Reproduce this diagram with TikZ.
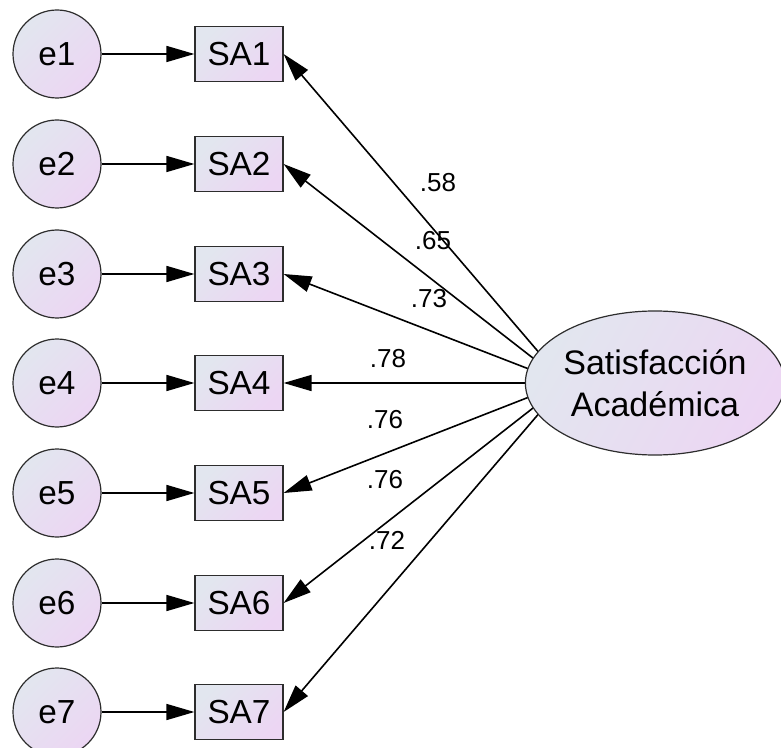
\documentclass[tikz,border=0pt]{standalone}
\usepackage{fontspec}
\setmainfont{Liberation Sans}
\usetikzlibrary{arrows.meta,shapes.geometric}

\definecolor{shadeblue}{RGB}{226,230,239}
\definecolor{shadepink}{RGB}{236,214,243}
\definecolor{rimgray}{RGB}{45,45,45}

\tikzset{
  errcirc/.style={circle, draw=rimgray, line width=0.9pt, minimum size=66pt, inner sep=0pt,
    shading=axis, top color=shadeblue, bottom color=shadepink, shading angle=45,
    font=\fontsize{25}{30}\selectfont},
  itembox/.style={rectangle, draw=rimgray, line width=0.9pt, minimum width=66pt, minimum height=41pt, inner sep=0pt,
    shading=axis, top color=shadeblue, bottom color=shadepink, shading angle=45,
    font=\fontsize{25}{30}\selectfont},
  latent/.style={ellipse, draw=rimgray, line width=0.9pt, minimum width=187pt, minimum height=108pt, inner sep=0pt,
    shading=axis, top color=shadeblue, bottom color=shadepink, shading angle=60,
    align=center, font=\fontsize{25.5}{32}\selectfont},
  path/.style={line width=1.2pt, -{Triangle[length=21pt,width=12pt]}},
  loading/.style={path, shorten <=26pt},
  coef/.style={inner sep=0pt, font=\fontsize{19.5}{22}\selectfont}
}

\begin{document}
\begin{tikzpicture}[x=0.75pt,y=0.75pt,yscale=-1,xscale=1]
\useasboundingbox (0,0) rectangle (781,748);

%Error terms
    \node [errcirc] (e1) at (57,54) {e1};
    \node [errcirc] (e2) at (57,164) {e2};
    \node [errcirc] (e3) at (57,274) {e3};
    \node [errcirc] (e4) at (57,383) {e4};
    \node [errcirc] (e5) at (57,493) {e5};
    \node [errcirc] (e6) at (57,603) {e6};
    \node [errcirc] (e7) at (57,712) {e7};

%Observed items
    \node [itembox] (SA1) at (239,54) {SA1};
    \node [itembox] (SA2) at (239,164) {SA2};
    \node [itembox] (SA3) at (239,274) {SA3};
    \node [itembox] (SA4) at (239,383) {SA4};
    \node [itembox] (SA5) at (239,493) {SA5};
    \node [itembox] (SA6) at (239,603) {SA6};
    \node [itembox] (SA7) at (239,712) {SA7};

%Error paths
    \draw [path] (e1) -- (SA1);
    \draw [path] (e2) -- (SA2);
    \draw [path] (e3) -- (SA3);
    \draw [path] (e4) -- (SA4);
    \draw [path] (e5) -- (SA5);
    \draw [path] (e6) -- (SA6);
    \draw [path] (e7) -- (SA7);

%Factor loadings (aimed at a point left of the factor's centre)
    \coordinate (hub) at (565,383);
    \draw [loading] (hub) -- (SA1.east);
    \draw [loading] (hub) -- (SA2.east);
    \draw [loading] (hub) -- (SA3.east);
    \draw [loading] (hub) -- (SA4.east);
    \draw [loading] (hub) -- (SA5.east);
    \draw [loading] (hub) -- (SA6.east);
    \draw [loading] (hub) -- (SA7.east);

%Latent factor
    \node [latent] (SatAc) at (655,383) {Satisfacción\\Académica};

% Text Node
    \node [coef] (l1) at (438,183) {.58};
    \node [coef] (l2) at (433,241) {.65};
    \node [coef] (l3) at (429,299) {.73};
    \node [coef] (l4) at (388,359) {.78};
    \node [coef] (l5) at (385,420) {.76};
    \node [coef] (l6) at (385,480) {.76};
    \node [coef] (l7) at (387,540) {.72};

\end{tikzpicture}
\end{document}
